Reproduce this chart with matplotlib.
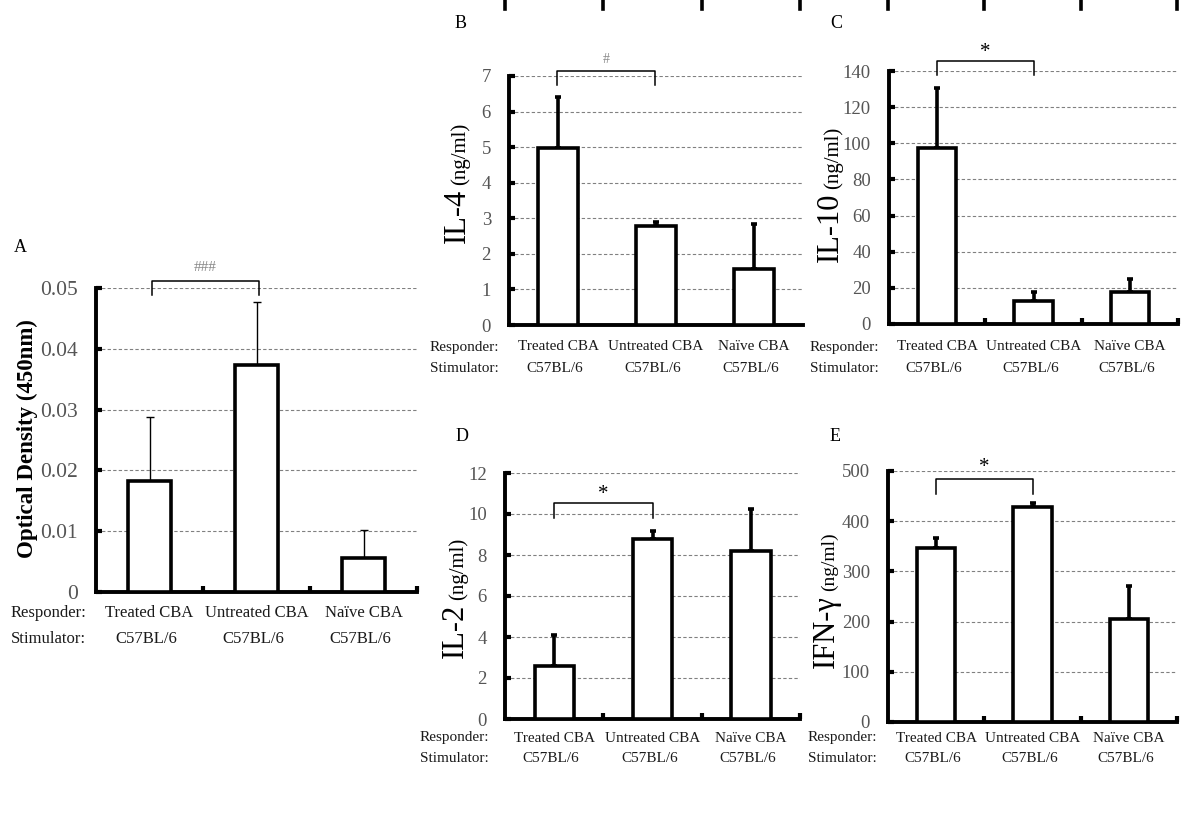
"""Cytokine / optical density panels (A-E) from the MLR experiment."""

import matplotlib

matplotlib.use("Agg")
import matplotlib.pyplot as plt
from matplotlib.lines import Line2D

W, H = 1200, 831

RESPONDERS = ["Treated CBA", "Untreated CBA", "Na\u00efve CBA"]
STIMULATORS = ["C57BL/6", "C57BL/6", "C57BL/6"]

od_mean = [0.0183, 0.0373, 0.0056]
od_err = [0.0105, 0.0104, 0.0046]
od_ticks = [0, 0.01, 0.02, 0.03, 0.04, 0.05]

il4_mean = [4.97, 2.78, 1.57]
il4_err = [1.43, 0.12, 1.27]
il4_ticks = [0, 1, 2, 3, 4, 5, 6, 7]

il10_mean = [97.4, 12.7, 17.8]
il10_err = [33.2, 5.0, 6.9]
il10_ticks = [0, 20, 40, 60, 80, 100, 120, 140]

il2_mean = [2.59, 8.78, 8.20]
il2_err = [1.50, 0.40, 2.05]
il2_ticks = [0, 2, 4, 6, 8, 10, 12]

ifng_mean = [346, 428, 205]
ifng_err = [20, 8, 66]
ifng_ticks = [0, 100, 200, 300, 400, 500]

plt.rcParams["font.family"] = ["Liberation Serif", "DejaVu Serif"]

TICK_GREY = "#555555"
TEXT_DARK = "#1a1a1a"


def px_rect(x0, y_top, x1, y_bot):
    return [x0 / W, 1 - y_bot / H, (x1 - x0) / W, (y_bot - y_top) / H]


def fig_text(fig, x, y, s, **kw):
    return fig.text(x / W, 1 - y / H, s, **kw)


def bar_panel(fig, rect, means, errs, ticks, thin_err=False, tick_size=13.5,
              boundary_ticks=True):
    ax = fig.add_axes(px_rect(*rect))
    xs = [0.5, 1.5, 2.5]
    ax.bar(xs, means, width=0.4, color="white", edgecolor="black",
           linewidth=2.6, zorder=3)
    lw = 1.0 if thin_err else 2.6
    ax.errorbar(xs, means, yerr=[[0, 0, 0], errs], fmt="none", ecolor="black",
                elinewidth=lw, capsize=3 if thin_err else 2.2,
                capthick=lw, zorder=2)
    ax.set_xlim(0, 3)
    ax.set_ylim(ticks[0], ticks[-1])
    ax.set_yticks(ticks)
    ax.set_yticklabels(["0" if t == 0 else f"{t:g}" for t in ticks])
    ax.yaxis.grid(True, linestyle=(0, (3, 2)), color="#808080", linewidth=0.8)
    ax.set_axisbelow(True)
    for side in ("top", "right"):
        ax.spines[side].set_visible(False)
    for side in ("left", "bottom"):
        ax.spines[side].set_linewidth(2.8)
        ax.spines[side].set_capstyle("projecting")
    ax.tick_params(axis="y", direction="in", length=4, width=3, pad=13,
                   labelsize=tick_size, labelcolor=TICK_GREY)
    ax.set_xticks([])
    if boundary_ticks:
        ax.set_xticks([1, 2, 3], minor=True)
        ax.tick_params(axis="x", which="minor", direction="in", length=4,
                       width=3)
    ax.patch.set_alpha(0)
    return ax


def bracket(ax, x0, x1, y_low, y_high, label, color, size, y_text):
    ax.plot([x0, x0, x1, x1], [y_low, y_high, y_high, y_low], color="black",
            linewidth=1.1, clip_on=False, zorder=5)
    ax.text((x0 + x1) / 2, y_text, label, ha="center", va="center",
            color=color, fontsize=size, clip_on=False)


def group_labels(fig, ax, y_resp, y_stim, x_lead, size):
    fig_text(fig, x_lead, y_resp, "Responder:", ha="left", va="center",
             fontsize=size, color=TEXT_DARK)
    fig_text(fig, x_lead, y_stim, "Stimulator:", ha="left", va="center",
             fontsize=size, color=TEXT_DARK)
    for i, (r, s) in enumerate(zip(RESPONDERS, STIMULATORS)):
        xd = ax.transData.transform((i + 0.5, 0))[0]
        x_px = xd / fig.dpi / fig.get_figwidth() * W
        fig_text(fig, x_px, y_resp, r, ha="center", va="center",
                 fontsize=size, color=TEXT_DARK)
        fig_text(fig, x_px - 3, y_stim, s, ha="center", va="center",
                 fontsize=size, color=TEXT_DARK)


def cyto_label(fig, x_base, y_start, big, big_size=22, small_size=15):
    """Rotated 'IL-x (ng/ml)' label: large name, smaller unit after it."""
    t = fig_text(fig, x_base, y_start, big, rotation=90,
                 rotation_mode="anchor", ha="left", va="baseline",
                 fontsize=big_size, color="black")
    renderer = fig.canvas.get_renderer()
    ext = t.get_window_extent(renderer)
    y_small = H - ext.y1 - 4
    fig_text(fig, x_base, y_small, "(ng/ml)", rotation=90,
             rotation_mode="anchor", ha="left", va="baseline",
             fontsize=small_size, color="black")


def main() -> None:
    fig = plt.figure(figsize=(W / 100, H / 100), dpi=100)

    # A - optical density
    ax_a = bar_panel(fig, (96, 288, 417, 592), od_mean, od_err, od_ticks,
                     thin_err=True, tick_size=15.5)
    bracket(ax_a, 0.52, 1.52, 0.0488, 0.0512, "###", "#888888", 11, 0.0533)
    fig_text(fig, 27, 439, "Optical Density (450nm)", rotation=90,
             ha="center", va="center", fontsize=16.5, fontweight="bold")
    fig_text(fig, 20, 247, "A", ha="center", va="center", fontsize=13)
    group_labels(fig, ax_a, 613, 639, 11, 12)

    # B - IL-4
    ax_b = bar_panel(fig, (509, 76, 803, 325), il4_mean, il4_err, il4_ticks,
                     boundary_ticks=False)
    bracket(ax_b, 0.49, 1.49, 6.75, 7.14, "#", "#888888", 10, 7.47)
    cyto_label(fig, 465, 243, "IL-4")
    fig_text(fig, 461, 24, "B", ha="center", va="center", fontsize=13)
    group_labels(fig, ax_b, 347, 368, 430, 11)

    # C - IL-10
    ax_c = bar_panel(fig, (889, 71, 1178, 324), il10_mean, il10_err,
                     il10_ticks)
    bracket(ax_c, 0.5, 1.5, 137.8, 145.5, "*", "black", 15, 150.5)
    cyto_label(fig, 838, 262, "IL-10")
    fig_text(fig, 836, 24, "C", ha="center", va="center", fontsize=13)
    group_labels(fig, ax_c, 347, 368, 810, 11)

    # D - IL-2
    ax_d = bar_panel(fig, (505, 473, 800, 719), il2_mean, il2_err, il2_ticks)
    bracket(ax_d, 0.5, 1.5, 9.8, 10.54, "*", "black", 15, 10.95)
    cyto_label(fig, 463, 658, "IL-2")
    fig_text(fig, 462, 437, "D", ha="center", va="center", fontsize=13)
    group_labels(fig, ax_d, 738, 759, 420, 11)

    # E - IFN-gamma
    ax_e = bar_panel(fig, (888, 471, 1177, 722), ifng_mean, ifng_err,
                     ifng_ticks)
    bracket(ax_e, 0.5, 1.5, 454, 484, "*", "black", 15, 506)
    cyto_label(fig, 834, 668, "IFN-\u03b3", small_size=14)
    fig_text(fig, 835, 437, "E", ha="center", va="center", fontsize=13)
    group_labels(fig, ax_e, 738, 759, 808, 11)

    # cut-off category ticks of the row above, same grid as D and E
    for ax in (ax_d, ax_e):
        x0, _, w, _ = ax.get_position().bounds
        for i in range(4):
            x = x0 + i * w / 3
            fig.add_artist(Line2D([x, x], [1, 1 - 9 / H], color="black",
                                  linewidth=2.6))

    fig.savefig("out.png", dpi=100, facecolor="white")
    plt.close(fig)


if __name__ == "__main__":
    main()
